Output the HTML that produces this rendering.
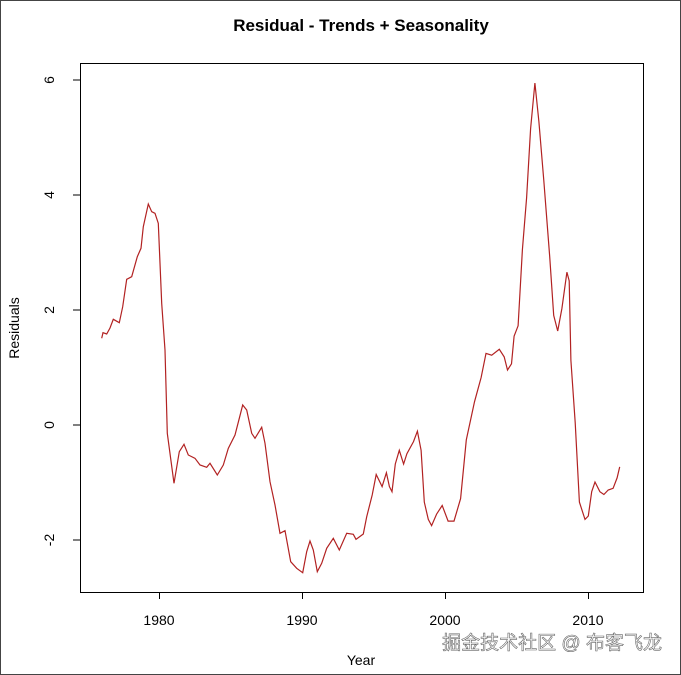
<!DOCTYPE html>
<html><head><meta charset="utf-8"><style>
html,body{margin:0;padding:0;background:#fff;}
svg{display:block;}
</style></head><body>
<svg width="681" height="675" xmlns="http://www.w3.org/2000/svg" font-family="Liberation Sans, Arial, sans-serif">
<rect x="0.5" y="0.5" width="680" height="674" fill="#fff" stroke="#444" stroke-width="1"/>
<text x="361" y="31" text-anchor="middle" font-size="17" font-weight="bold">Residual - Trends + Seasonality</text>
<rect x="80.5" y="63.5" width="563" height="529" fill="none" stroke="#000"/>
<g stroke="#000">
<line x1="80" y1="80" x2="73" y2="80"/><line x1="80" y1="195" x2="73" y2="195"/><line x1="80" y1="310" x2="73" y2="310"/><line x1="80" y1="425" x2="73" y2="425"/><line x1="80" y1="540" x2="73" y2="540"/>
<line x1="159.5" y1="592" x2="159.5" y2="599"/><line x1="302.5" y1="592" x2="302.5" y2="599"/><line x1="445.5" y1="592" x2="445.5" y2="599"/><line x1="588.5" y1="592" x2="588.5" y2="599"/>
</g>
<g font-size="14" text-anchor="middle">
<text transform="translate(54,80) rotate(-90)">6</text>
<text transform="translate(54,195) rotate(-90)">4</text>
<text transform="translate(54,310) rotate(-90)">2</text>
<text transform="translate(54,425) rotate(-90)">0</text>
<text transform="translate(54,540) rotate(-90)">-2</text>
<text x="159" y="625">1980</text><text x="302" y="625">1990</text><text x="445" y="625">2000</text><text x="588" y="625">2010</text>
<text x="361" y="665">Year</text>
<text transform="translate(19,328) rotate(-90)">Residuals</text>
</g>
<polyline fill="none" stroke="#b22222" stroke-width="1.2" points="101.7,338.3 103,332.7 106.7,334 110,328 113.3,319.3 119.3,322.7 122.7,306.7 126.7,279.3 131.7,276.7 137.3,256.7 141,248.3 143.3,226.7 148.3,204 151.7,211.7 155,213.3 158.3,223.3 161.7,303.3 165,350 167.3,433.3 174,483.3 179.3,451.7 184,444.3 188.3,455 195,458.3 200,465 206.7,467.3 210,463.3 217.3,475 223.3,465 228.3,448.3 235,435 239.3,418.3 242.7,405 246.7,410 251.7,433.3 255,438.3 261.7,427.3 265,443.3 270,481.7 275,505 280,533.3 285,530.7 290.7,561.7 296.7,568.3 302.7,572.7 306.7,551.7 310,541 313.3,550 317.3,571.7 321.7,563.3 326.7,548.3 333.3,538.3 339.3,550 346.7,533.3 353.3,534.3 356,539.3 363.3,534 366.7,516.7 372.2,495 376.2,474.5 382.1,486.6 386.4,472.7 389.4,486.6 392,491.7 395.3,464 399.3,450.3 403.6,464 406.9,453.7 413.5,441.6 417.4,431.2 421.1,450.3 424.3,502.1 428.3,519.4 431.6,525.6 436.6,514.1 442.2,505.5 448.1,521.1 454,521.1 460.6,498.6 466.3,439.9 474.5,401.8 481.1,377.6 486,353.4 491.7,355.2 499.3,349.3 504.2,356.9 507.5,370 511.5,363.8 514.1,336.1 518.1,325.8 522.4,249.7 526.6,197.8 530.6,128.7 534.9,83 538.9,121.7 543.8,180.5 549.7,256.6 553.7,315.4 557.7,331 561.9,308.5 566.9,272.2 569.2,280.8 570.9,360.4 575.2,422.6 579.4,502.1 585,519.4 588.3,516 591.7,491.7 595,482 599.9,491.7 603.9,494.5 608.2,490 613.1,488.3 617.1,477.9 619.7,466.9"/>
<text x="662" y="649" text-anchor="end" font-size="19" fill="#fff" stroke="#666" stroke-width="0.6" font-family="Liberation Sans, Noto Sans CJK SC, sans-serif">掘金技术社区 @ 布客飞龙</text>
</svg>
</body></html>
